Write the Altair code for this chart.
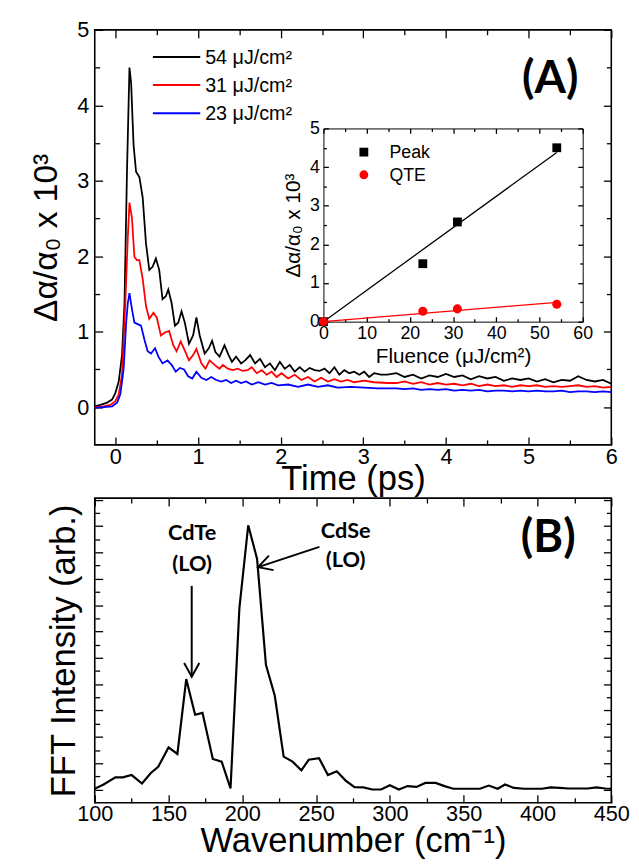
import altair as alt
import pandas as pd

FONT = "Liberation Sans"
BOLD = "Lato"

# ---------------- Panel A : transient absorption traces ----------------
t_tail = [3.4, 3.5, 3.6, 3.7, 3.8, 3.9, 4.0, 4.1, 4.2, 4.3, 4.4, 4.5, 4.6, 4.7,
          4.8, 4.9, 5.0, 5.1, 5.2, 5.3, 5.4, 5.5, 5.6, 5.7, 5.8, 5.9, 6.0]

t54 = [-0.26, -0.18, -0.10, -0.04, 0.00, 0.04, 0.08, 0.11, 0.14, 0.17, 0.19, 0.22, 0.25, 0.29,
       0.33, 0.37, 0.41, 0.45, 0.49, 0.53, 0.57, 0.61, 0.64, 0.68, 0.72, 0.76, 0.80, 0.84,
       0.89, 0.94, 0.98, 1.02, 1.08, 1.13, 1.17, 1.21, 1.26, 1.32, 1.37, 1.41, 1.46, 1.52,
       1.57, 1.63, 1.69, 1.75, 1.81, 1.87, 1.93, 1.99, 2.05, 2.11, 2.17, 2.23, 2.29, 2.35,
       2.41, 2.47, 2.53, 2.59, 2.65, 2.71, 2.77, 2.83, 2.89, 2.95, 3.01, 3.07, 3.13, 3.21,
       3.29] + t_tail
v54 = [0.01, 0.03, 0.06, 0.10, 0.19, 0.34, 0.69, 1.38, 3.12, 4.50, 4.30, 3.47, 3.12, 3.05,
       2.78, 2.17, 1.82, 1.86, 1.97, 1.82, 1.43, 1.47, 1.56, 1.38, 1.08, 1.12, 1.27, 1.12,
       0.84, 0.95, 1.19, 0.95, 0.71, 0.78, 0.88, 0.73, 0.67, 0.82, 0.69, 0.60, 0.67, 0.58,
       0.62, 0.69, 0.58, 0.64, 0.53, 0.58, 0.49, 0.60, 0.51, 0.56, 0.47, 0.53, 0.47, 0.52,
       0.49, 0.48, 0.51, 0.45, 0.53, 0.43, 0.49, 0.45, 0.47, 0.43, 0.47, 0.40, 0.45, 0.43,
       0.43,
       0.45, 0.40, 0.43, 0.38, 0.42, 0.40, 0.44, 0.40, 0.42, 0.37, 0.41, 0.38, 0.40, 0.35,
       0.38, 0.36, 0.38, 0.34, 0.37, 0.33, 0.36, 0.35, 0.41, 0.36, 0.34, 0.36, 0.31]

t31 = [-0.26, -0.14, -0.06, 0.00, 0.04, 0.08, 0.12, 0.15, 0.17, 0.20, 0.23, 0.26, 0.29, 0.33,
       0.37, 0.41, 0.46, 0.50, 0.55, 0.60, 0.65, 0.70, 0.74, 0.79, 0.84, 0.89, 0.94, 0.98,
       1.04, 1.09, 1.14, 1.20, 1.26, 1.30, 1.36, 1.42, 1.48, 1.54, 1.60, 1.65, 1.71, 1.77,
       1.83, 1.89, 1.95, 2.01, 2.09, 2.17, 2.25, 2.33, 2.41, 2.49, 2.57, 2.65, 2.73, 2.81,
       2.89, 3.01, 3.13, 3.29] + t_tail
v31 = [0.00, 0.01, 0.03, 0.08, 0.17, 0.43, 1.38, 2.25, 2.71, 2.51, 1.99, 1.95, 1.95, 1.70,
       1.34, 1.17, 1.25, 1.19, 0.95, 0.99, 1.01, 0.82, 0.74, 0.87, 0.75, 0.62, 0.69, 0.77,
       0.58, 0.51, 0.62, 0.56, 0.51, 0.56, 0.51, 0.49, 0.51, 0.48, 0.49, 0.53, 0.45, 0.49,
       0.43, 0.47, 0.40, 0.45, 0.38, 0.43, 0.36, 0.40, 0.34, 0.39, 0.34, 0.37, 0.34, 0.36,
       0.33, 0.35, 0.33, 0.32,
       0.32, 0.34, 0.31, 0.33, 0.30, 0.32, 0.30, 0.31, 0.29, 0.31, 0.28, 0.30, 0.28, 0.29,
       0.27, 0.29, 0.28, 0.29, 0.27, 0.28, 0.27, 0.28, 0.29, 0.27, 0.28, 0.26, 0.27]

t23 = [-0.26, -0.14, -0.04, 0.02, 0.06, 0.10, 0.13, 0.15, 0.17, 0.20, 0.23, 0.27, 0.31, 0.35,
       0.39, 0.43, 0.48, 0.52, 0.57, 0.63, 0.68, 0.73, 0.78, 0.83, 0.88, 0.93, 0.98, 1.04,
       1.10, 1.16, 1.22, 1.28, 1.34, 1.40, 1.46, 1.52, 1.58, 1.65, 1.73, 1.81, 1.89, 1.97,
       2.09, 2.21, 2.33, 2.45, 2.57, 2.69, 2.85, 3.01, 3.17, 3.29] + t_tail
v23 = [-0.01, 0.00, 0.01, 0.06, 0.17, 0.51, 1.12, 1.38, 1.51, 1.30, 1.12, 1.10, 1.08, 0.90,
       0.74, 0.71, 0.78, 0.67, 0.58, 0.62, 0.56, 0.47, 0.52, 0.50, 0.41, 0.38, 0.47, 0.39,
       0.36, 0.40, 0.36, 0.34, 0.36, 0.32, 0.35, 0.32, 0.34, 0.30, 0.33, 0.30, 0.32, 0.29,
       0.30, 0.27, 0.30, 0.27, 0.29, 0.26, 0.27, 0.26, 0.25, 0.25,
       0.25, 0.24, 0.25, 0.23, 0.24, 0.23, 0.24, 0.22, 0.23, 0.22, 0.23, 0.21, 0.22, 0.22,
       0.21, 0.22, 0.21, 0.22, 0.21, 0.21, 0.22, 0.20, 0.21, 0.21, 0.20, 0.21, 0.20]

series_names = ["54 μJ/cm²", "31 μJ/cm²", "23 μJ/cm²"]
series_colors = ["#000000", "#ff0000", "#0000ff"]

# inset: amplitude vs fluence
fluence = [0, 23, 31, 54]
peak_vals = [0.0, 1.50, 2.58, 4.50]
qte_vals = [0.0, 0.27, 0.33, 0.45]
fit_fluence = [0, 54]
fit_peak = [0.0, 4.38]
fit_qte = [0.0, 0.50]
inset_names = ["Peak", "QTE"]

# ---------------- Panel B : FFT spectrum ----------------
wavenumber = [100, 106, 114, 119, 125, 132, 138, 143, 150, 156, 162, 168, 173, 180, 186,
              192, 198, 204, 210, 216, 222, 228, 234, 240, 245, 252, 258, 264, 270, 276,
              282, 288, 294, 300, 306, 312, 318, 324, 331, 337, 343, 349, 355, 361, 367,
              373, 378, 384, 391, 397, 403, 409, 415, 421, 427, 434, 440, 446, 450]
fft_intensity = [0.03, 0.19, 0.46, 0.46, 0.55, 0.23, 0.63, 0.86, 1.60, 1.35, 4.19, 2.84,
                 2.91, 1.16, 1.06, 0.04, 6.88, 10.03, 8.75, 4.73, 3.56, 1.25, 1.06, 0.73,
                 1.13, 1.19, 0.55, 0.69, 0.34, 0.09, 0.08, 0.00, 0.00, 0.16, 0.00, 0.13,
                 0.10, 0.25, 0.25, 0.13, 0.03, 0.03, 0.03, 0.03, 0.15, 0.03, 0.19, 0.06,
                 0.03, 0.03, 0.03, 0.08, 0.06, 0.04, 0.04, 0.04, 0.08, 0.04, 0.03]

ann_labels = ["CdTe", "(LO)", "CdSe", "(LO)"]
ann_wn = [166, 166, 270, 270]
ann_val = [9.75, 8.56, 9.81, 8.69]

arrow_wn1 = [165.7, 252.2]
arrow_val1 = [7.73, 9.21]
arrow_wn2 = [165.7, 210.7]
arrow_val2 = [4.28, 8.44]

# tick values
time_major = [0, 1, 2, 3, 4, 5, 6]
time_minor = [0.5, 1.5, 2.5, 3.5, 4.5, 5.5]
amp_major = [0, 1, 2, 3, 4, 5]
amp_minor = [0.5, 1.5, 2.5, 3.5, 4.5]
flu_major = [0, 10, 20, 30, 40, 50, 60]
flu_minor = [5, 15, 25, 35, 45, 55]
wn_major = [100, 150, 200, 250, 300, 350, 400, 450]
wn_minor = [125, 175, 225, 275, 325, 375, 425]
fft_major = list(range(0, 12))
fft_minor = [k + 0.5 for k in range(0, 11)]

# ---------------- layout constants ----------------
W, HA, HB = 524, 421, 309
IN_L, IN_R, IN_T, IN_B = 232, 495, 100, 296

xA_dom, yA_dom = [-0.25, 6], [-0.5, 5]
xI_dom, yI_dom = [0, 60], [0, 5]
xB_dom, yB_dom = [100, 450], [-0.5, 11.06]


def sc(dom, rng=None):
    if rng is None:
        return alt.Scale(domain=dom, nice=False, zero=False)
    return alt.Scale(domain=dom, range=rng, nice=False, zero=False)


def tick_axis(orient, offset, values, size):
    return alt.Axis(orient=orient, offset=offset, values=values, ticks=True,
                    tickSize=size, tickWidth=1.3, tickColor="black", labels=False,
                    domain=False, grid=False, title=None, minExtent=0)


def tick_layer(xdom, ydom, xs, ys, xvals, yvals, size, xo, yo, xoff, yoff):
    df = pd.DataFrame({"x": xdom, "y": ydom})
    return alt.Chart(df).mark_point(opacity=0, size=1).encode(
        x=alt.X("x:Q", scale=xs, axis=tick_axis(xo, xoff, xvals, size)),
        y=alt.Y("y:Q", scale=ys, axis=tick_axis(yo, yoff, yvals, size)),
    )


# ---------------- Panel A layers ----------------
rows = []
for name, ts, vs in zip(series_names, [t54, t31, t23], [v54, v31, v23]):
    for t, v in zip(ts, vs):
        rows.append({"series": name, "t": t, "v": v})
trace_df = pd.DataFrame(rows)

traces = alt.Chart(trace_df).mark_line(strokeWidth=1.8, clip=True).encode(
    x=alt.X("t:Q", scale=sc(xA_dom), axis=alt.Axis(
        orient="bottom", values=time_major, ticks=False, domain=False, labelFontSize=22,
        labelPadding=2, labelFlush=False, title="Time (ps)", titleFontSize=35,
        titlePadding=-6)),
    y=alt.Y("v:Q", scale=sc(yA_dom), axis=alt.Axis(
        orient="left", values=amp_major, ticks=False, domain=False, labelFontSize=22,
        labelPadding=6, title="Δα/α₀ x 10³", titleFontSize=34, titlePadding=14)),
    color=alt.Color("series:N", scale=alt.Scale(domain=series_names, range=series_colors),
                    legend=None),
)

a_ticks = [
    tick_layer(xA_dom, yA_dom, sc(xA_dom), sc(yA_dom), time_major, amp_major, 8, "bottom", "left", -8, -8),
    tick_layer(xA_dom, yA_dom, sc(xA_dom), sc(yA_dom), time_minor, amp_minor, 5, "bottom", "left", -5, -5),
    tick_layer(xA_dom, yA_dom, sc(xA_dom), sc(yA_dom), time_major, amp_major, 8, "top", "right", -8, -8),
    tick_layer(xA_dom, yA_dom, sc(xA_dom), sc(yA_dom), time_minor, amp_minor, 5, "top", "right", -5, -5),
]

legend_layers = []
for i, (name, col) in enumerate(zip(series_names, series_colors)):
    ldf = pd.DataFrame({"label": [name]})
    yy = 27.5 + 28.5 * i
    legend_layers.append(alt.Chart(ldf).mark_rule(color=col, strokeWidth=2).encode(
        x=alt.value(59), x2=alt.value(107), y=alt.value(yy)))
    legend_layers.append(alt.Chart(ldf).mark_text(
        align="left", baseline="middle", fontSize=20, font=FONT, color="black").encode(
        x=alt.value(112), y=alt.value(yy + 1), text="label:N"))

label_A = alt.Chart(pd.DataFrame({"label": ["(A)"]})).mark_text(
    font=BOLD, fontWeight="bold", fontSize=46, color="black").encode(
    x=alt.value(462), y=alt.value(50), text="label:N")

# inset layers
inset_df = pd.DataFrame({"f": fluence, "peak": peak_vals, "qte": qte_vals})
fit_df = pd.DataFrame({"f": fit_fluence, "peak": fit_peak, "qte": fit_qte})
xI = sc(xI_dom, [IN_L, IN_R])
yI = sc(yI_dom, [IN_B, IN_T])

fit_peak_line = alt.Chart(fit_df).mark_line(color="black", strokeWidth=1.3).encode(
    x=alt.X("f:Q", scale=xI, axis=alt.Axis(orient="top", offset=-IN_T, ticks=False,
                                           labels=False, domain=True, domainColor="black",
                                           domainWidth=1, title=None, minExtent=0)),
    y=alt.Y("peak:Q", scale=yI, axis=alt.Axis(orient="right", offset=-(W - IN_R), ticks=False,
                                              labels=False, domain=True, domainColor="black",
                                              domainWidth=1, title=None, minExtent=0)),
)
fit_qte_line = alt.Chart(fit_df).mark_line(color="#ff0000", strokeWidth=1.3).encode(
    x=alt.X("f:Q", scale=xI, axis=None),
    y=alt.Y("qte:Q", scale=yI, axis=None),
)
peak_pts = alt.Chart(inset_df).mark_point(shape="square", filled=True, size=80,
                                          color="black", opacity=1).encode(
    x=alt.X("f:Q", scale=xI, axis=alt.Axis(
        orient="bottom", offset=-(HA - IN_B), values=flu_major, ticks=False, domain=True,
        domainColor="black", domainWidth=1, labelFontSize=18, labelPadding=3,
        labelFlush=False, title="Fluence (μJ/cm²)", titleFontSize=21, titlePadding=3,
        minExtent=0)),
    y=alt.Y("peak:Q", scale=yI, axis=alt.Axis(
        orient="left", offset=-IN_L, values=amp_major, ticks=False, domain=True,
        domainColor="black", domainWidth=1, labelFontSize=18, labelPadding=4,
        title="Δα/α₀ x 10³", titleFontSize=21, titlePadding=6, minExtent=0)),
)
qte_pts = alt.Chart(inset_df).mark_point(shape="circle", filled=True, size=85,
                                         color="#ff0000", opacity=1).encode(
    x=alt.X("f:Q", scale=xI, axis=None),
    y=alt.Y("qte:Q", scale=yI, axis=None),
)
i_ticks = [
    tick_layer(xI_dom, yI_dom, xI, yI, flu_major, amp_major, 5, "bottom", "left",
               -(HA - IN_B) - 5, -IN_L - 5),
    tick_layer(xI_dom, yI_dom, xI, yI, flu_minor, amp_minor, 3, "bottom", "left",
               -(HA - IN_B) - 3, -IN_L - 3),
    tick_layer(xI_dom, yI_dom, xI, yI, flu_major, amp_major, 5, "top", "right",
               -IN_T - 5, -(W - IN_R) - 5),
    tick_layer(xI_dom, yI_dom, xI, yI, flu_minor, amp_minor, 3, "top", "right",
               -IN_T - 3, -(W - IN_R) - 3),
]
inset_legend = []
for i, (name, shape, col) in enumerate(zip(inset_names, ["square", "circle"], ["black", "#ff0000"])):
    ldf = pd.DataFrame({"label": [name]})
    yy = 124 + 23 * i
    inset_legend.append(alt.Chart(ldf).mark_point(shape=shape, filled=True, size=80,
                                                  color=col, opacity=1).encode(
        x=alt.value(273), y=alt.value(yy)))
    inset_legend.append(alt.Chart(ldf).mark_text(
        align="left", baseline="middle", fontSize=18, font=FONT, color="black").encode(
        x=alt.value(299), y=alt.value(yy + 1), text="label:N"))

top = alt.layer(
    traces, *a_ticks, *legend_layers, label_A,
    fit_peak_line, fit_qte_line, peak_pts, qte_pts, *i_ticks, *inset_legend,
).resolve_scale(x="independent", y="independent").properties(width=W, height=HA)

# ---------------- Panel B layers ----------------
fft_df = pd.DataFrame({"wn": wavenumber, "I": fft_intensity})
xB, yB = sc(xB_dom), sc(yB_dom)

fft_line = alt.Chart(fft_df).mark_line(color="black", strokeWidth=2.2).encode(
    x=alt.X("wn:Q", scale=xB, axis=alt.Axis(
        orient="bottom", values=wn_major, ticks=False, domain=False, labelFontSize=22,
        labelPadding=1, labelFlush=False, title="Wavenumber (cm⁻¹)", titleFontSize=35,
        titlePadding=-1)),
    y=alt.Y("I:Q", scale=yB, axis=alt.Axis(
        orient="left", values=fft_major, ticks=False, domain=False, labels=False,
        title="FFT Intensity (arb.)", titleFontSize=35, titlePadding=14)),
)
b_ticks = [
    tick_layer(xB_dom, yB_dom, xB, yB, wn_major, fft_major, 8, "bottom", "left", -8, -8),
    tick_layer(xB_dom, yB_dom, xB, yB, wn_minor, fft_minor, 5, "bottom", "left", -5, -5),
    tick_layer(xB_dom, yB_dom, xB, yB, wn_major, fft_major, 8, "top", "right", -8, -8),
    tick_layer(xB_dom, yB_dom, xB, yB, wn_minor, fft_minor, 5, "top", "right", -5, -5),
]
ann_df = pd.DataFrame({"label": ann_labels, "wn": ann_wn, "val": ann_val})
ann = alt.Chart(ann_df).mark_text(font=BOLD, fontWeight="bold", fontSize=22,
                                  color="black", baseline="middle").encode(
    x=alt.X("wn:Q", scale=xB, axis=None), y=alt.Y("val:Q", scale=yB, axis=None),
    text="label:N")
arr_df = pd.DataFrame({"x1": arrow_wn1, "y1": arrow_val1, "x2": arrow_wn2, "y2": arrow_val2})
arrows = alt.Chart(arr_df).mark_rule(color="black", strokeWidth=2).encode(
    x=alt.X("x1:Q", scale=xB, axis=None), y=alt.Y("y1:Q", scale=yB, axis=None),
    x2="x2:Q", y2="y2:Q")
ARROW = "M-0.55,-1L0,0L0.55,-1"
heads = []
for k, ang in enumerate([0, 72]):
    hdf = arr_df.iloc[[k]]
    heads.append(alt.Chart(hdf).mark_point(shape=ARROW, filled=False, size=784, angle=ang,
                                           strokeWidth=2, color="black", opacity=1).encode(
        x=alt.X("x2:Q", scale=xB, axis=None), y=alt.Y("y2:Q", scale=yB, axis=None)))
label_B = alt.Chart(pd.DataFrame({"label": ["(B)"]})).mark_text(
    font=BOLD, fontWeight="bold", fontSize=46, color="black").encode(
    x=alt.value(460), y=alt.value(41), text="label:N")

bottom = alt.layer(fft_line, *b_ticks, ann, arrows, *heads, label_B).resolve_axis(
    x="independent", y="independent").properties(width=W, height=HB)

chart = alt.vconcat(top, bottom, spacing=54, bounds="flush").properties(
    padding={"left": 20, "top": 4, "right": 0, "bottom": 0}
).configure_view(stroke="black", strokeWidth=1.6).configure_axis(
    labelFont=FONT, titleFont=FONT, labelColor="black", titleColor="black",
    titleFontWeight="normal", grid=False, labelOverlap=False, minExtent=0)

chart.save("out.html", embed_options={"renderer": "svg", "actions": False})
